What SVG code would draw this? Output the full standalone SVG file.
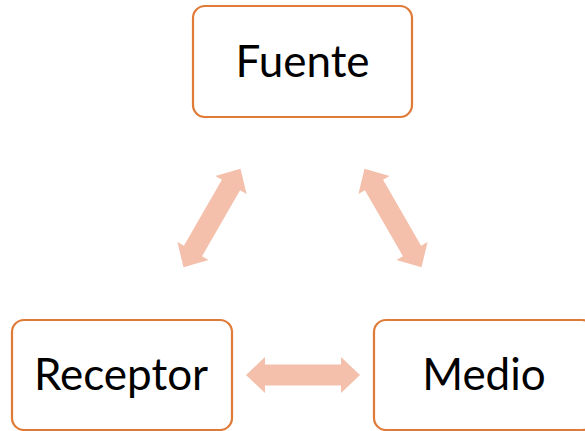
<svg xmlns="http://www.w3.org/2000/svg" width="585" height="431" viewBox="0 0 585 431">
<defs>
<style>
.box{fill:#fff;stroke:#E07A37;stroke-width:2.2}
.lbl{font-family:Lato,"Open Sans",sans-serif;font-size:44px;fill:#000;text-anchor:middle}
.arr{fill:#F4C0AB}
</style>
<polygon id="dbl" points="-57,0 -38,-18 -38,-10.5 38,-10.5 38,-18 57,0 38,18 38,10.5 -38,10.5 -38,18"/>
</defs>
<rect width="585" height="431" fill="#fff"/>
<g id="connectors" class="arr">
<use href="#dbl" transform="translate(212,218) rotate(-60)"/>
<use href="#dbl" transform="translate(393,218) rotate(60)"/>
<use href="#dbl" transform="translate(303,375)"/>
</g>
<g id="fuente">
<rect class="box" x="193" y="6" width="219" height="111" rx="12"/>
<text class="lbl" x="302.5" y="77">Fuente</text>
</g>
<g id="receptor">
<rect class="box" x="12" y="320" width="220" height="110" rx="12"/>
<text class="lbl" x="121" y="390">Receptor</text>
</g>
<g id="medio">
<rect class="box" x="374" y="320" width="220" height="110" rx="12"/>
<text class="lbl" x="484" y="390">Medio</text>
</g>
</svg>
